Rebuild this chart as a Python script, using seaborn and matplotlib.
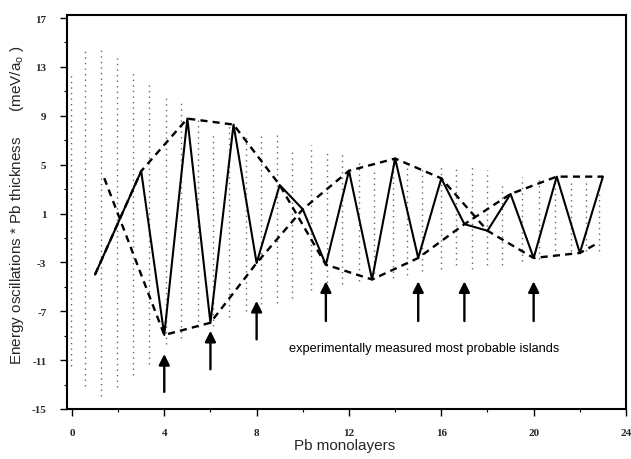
import numpy as np
import pandas as pd
import matplotlib
matplotlib.use("Agg")
import matplotlib.pyplot as plt
import seaborn as sns

# ---------------- data ----------------
# solid line: energy oscillation * thickness at integer monolayers
layers = [1, 3, 4, 5, 6, 7, 8, 9, 10, 11, 12, 13, 14, 15, 16, 17, 18, 19, 20, 21, 22, 23]
energy = [-4.0, 4.47, -8.94, 8.77, -7.94, 8.28, -3.05, 3.33, 1.35, -3.19, 4.5, -4.4,
          5.5, -2.64, 3.88, 0.13, -0.41, 2.6, -2.64, 4.02, -2.23, 4.02]

# dashed envelopes (odd and even layers)
odd_x = [1, 3, 5, 7, 9, 11, 13, 15, 17, 19, 21, 23]
odd_y = [-4.0, 4.47, 8.77, 8.28, 3.33, -3.19, -4.4, -2.64, 0.13, 2.6, 4.02, 4.02]
even_x = [1.4, 4, 6, 8, 10, 12, 14, 16, 18, 20, 22, 22.8]
even_y = [3.9, -8.94, -7.94, -3.05, 1.35, 4.5, 5.5, 3.88, -0.41, -2.64, -2.23, -1.4]

# dotted quasi-continuous oscillation: column positions with top / bottom extent
col_x = [-0.06, 0.55, 1.27, 1.95, 2.64, 3.33, 4.06, 4.74, 5.45, 6.13, 6.82, 7.55, 8.2,
         8.9, 9.55, 10.36, 11.07, 11.72, 12.45, 13.1, 13.9, 14.53, 15.18, 15.99, 16.64,
         17.35, 18.0, 18.65, 19.51, 20.25, 20.94, 21.62, 22.27, 22.84]
col_top = [12.5, 14.6, 14.7, 13.7, 12.7, 11.8, 10.8, 10.3, 9.0, 7.5, 8.3, 7.6, 7.6,
           7.4, 6.2, 6.6, 6.3, 6.1, 5.3, 4.5, 5.6, 5.0, 4.9, 4.8, 5.0,
           4.8, 4.6, 3.6, 4.0, 4.0, 4.1, 3.7, 3.6, 3.2]
col_bottom = [-11.5, -13.1, -13.9, -13.2, -12.2, -11.3, -9.7, -9.2, -8.3, -8.2, -7.5, -7.0, -6.4,
              -6.3, -5.9, -5.3, -5.1, -4.8, -4.5, -4.4, -4.3, -4.0, -3.7, -3.5, -3.2,
              -3.5, -3.2, -3.2, -2.9, -2.7, -2.5, -2.1, -2.1, -2.1]

# arrows marking experimentally measured islands
arrow_x = [4, 6, 8, 11, 15, 17, 20]
arrow_tip = [-10.5, -8.6, -6.15, -4.55, -4.55, -4.55, -4.55]
arrow_tail = [-13.6, -11.75, -9.3, -7.8, -7.8, -7.8, -7.8]

x_ticks = [0, 4, 8, 12, 16, 20, 24]
y_ticks = [17, 13, 9, 5, 1, -3, -7, -11, -15]

# ---------------- plotting ----------------
sns.set_style("ticks")
plt.rcParams['font.family'] = ['Liberation Sans', 'DejaVu Sans']
plt.rcParams['mathtext.fontset'] = 'custom'
plt.rcParams['mathtext.rm'] = 'Liberation Sans'

fig = plt.figure(figsize=(6.31, 4.60), dpi=100)
ax = fig.add_axes([67.3 / 631, 1 - 410 / 460, (626 - 67.3) / 631, (410 - 16) / 460])

# dotted columns
rows = []
for i, (cx, ct, cb) in enumerate(zip(col_x, col_top, col_bottom)):
    rows.append({"x": cx, "v": cb, "col": i})
    rows.append({"x": cx, "v": ct, "col": i})
dots = pd.DataFrame(rows)
sns.lineplot(data=dots, x="x", y="v", units="col", estimator=None, sort=False,
             color="0.4", lw=1.0, linestyle=(0, (1, 3)), ax=ax)

# dashed envelopes
sns.lineplot(x=odd_x, y=odd_y, color="black", lw=1.7, linestyle=(0, (3.0, 2.2)), ax=ax)
sns.lineplot(x=even_x, y=even_y, color="black", lw=1.7, linestyle=(0, (3.0, 2.2)), ax=ax)

# solid line
sns.lineplot(x=layers, y=energy, color="black", lw=1.5, ax=ax)

# arrows
for ax_x, tip, tail in zip(arrow_x, arrow_tip, arrow_tail):
    ax.annotate("", xy=(ax_x, tip), xytext=(ax_x, tail),
                arrowprops=dict(arrowstyle="-|>", color="black", lw=1.7,
                                mutation_scale=16, shrinkA=0, shrinkB=0))

ax.text(15.27, -9.98, "experimentally measured most probable islands",
        ha="center", va="center", fontsize=9.2, color="black")

ax.set_xlim(-0.2, 24)
ax.set_ylim(-15, 17.25)
ax.set_xticks(x_ticks)
ax.set_xticks([2, 6, 10, 14, 18, 22], minor=True)
ax.set_yticks(y_ticks)
ax.set_yticks([15, 11, 7, 3, -1, -5, -9, -13], minor=True)
ax.set_xticklabels([str(t) for t in x_ticks])
ax.set_yticklabels([str(t) for t in y_ticks])
for lab in ax.get_xticklabels() + ax.get_yticklabels():
    lab.set_family(['Liberation Serif', 'DejaVu Serif'])
    lab.set_fontweight('bold')
    lab.set_fontsize(8)
ax.tick_params(axis="both", which="major", direction="out", length=5, width=1.0, color="black")
ax.tick_params(axis="both", which="minor", direction="out", length=2.5, width=0.8, color="black")
ax.tick_params(axis="y", which="major", pad=10)
ax.tick_params(axis="x", which="major", pad=9)

for sp in ax.spines.values():
    sp.set_visible(True)
    sp.set_linewidth(1.5)
    sp.set_color("black")

ax.set_xlabel("Pb monolayers", fontsize=11)
ax.set_ylabel("Energy oscillations * Pb thickness      (meV/a$_{\\mathregular{o}}$ )", fontsize=11)
ax.xaxis.set_label_coords(0.497, -0.074)
ax.yaxis.set_label_coords(-0.074, 0.52)

fig.savefig("out.png", dpi=100)
